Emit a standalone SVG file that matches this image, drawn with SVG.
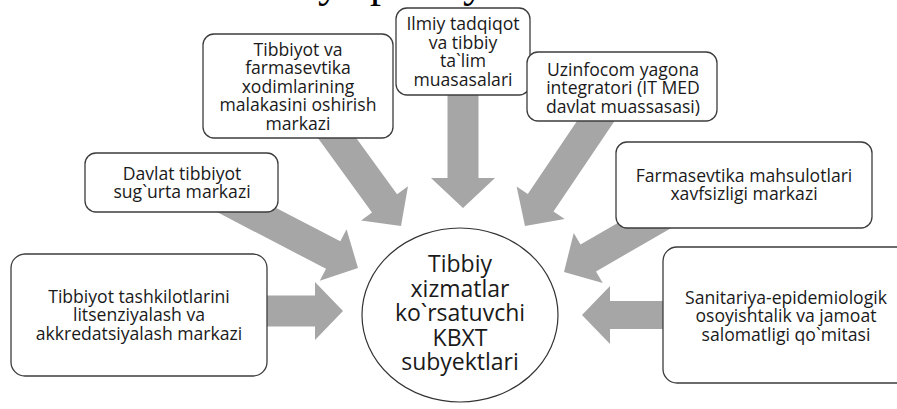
<svg xmlns="http://www.w3.org/2000/svg" width="897" height="409" viewBox="0 0 897 409">
<style>
.box{fill:#fff;stroke:#3c3c3c;stroke-width:1.3}
.arr{fill:#a6a6a6;stroke:none}
.t{font-family:"Open Sans","Noto Sans","Liberation Sans",sans-serif;font-size:17.6px;fill:#1a1a1a;text-anchor:middle}
.c{font-size:23px}
.top{font-family:"Liberation Serif",serif;font-size:44px;fill:#000}
</style>
<rect width="897" height="409" fill="#fff"/>
<text class="top" y="-3"><tspan x="318">y</tspan><tspan x="370">p</tspan><tspan x="463">y</tspan></text>
<g id="connectors">
<polygon class="arr" transform="translate(343,311) rotate(0)" points="0,0 -28,-29 -28,-15.5 -90,-15.5 -90,15.5 -28,15.5 -28,29"/>
<polygon class="arr" transform="translate(582,315) rotate(180)" points="0,0 -28,-29 -28,-14 -100,-14 -100,14 -28,14 -28,29"/>
<polygon class="arr" transform="translate(463,208) rotate(90)" points="0,0 -30,-32 -30,-15.5 -125,-15.5 -125,15.5 -30,15.5 -30,32"/>
<polygon class="arr" transform="translate(401,226) rotate(54)" points="0,0 -28,-29 -28,-15.5 -125,-15.5 -125,15.5 -28,15.5 -28,29"/>
<polygon class="arr" transform="translate(358,268) rotate(27.5)" points="0,0 -28,-29 -28,-15.5 -160,-15.5 -160,15.5 -28,15.5 -28,29"/>
<polygon class="arr" transform="translate(525,226) rotate(124)" points="0,0 -28,-29 -28,-15.5 -145,-15.5 -145,15.5 -28,15.5 -28,29"/>
<polygon class="arr" transform="translate(564,272) rotate(150)" points="0,0 -28,-29 -28,-15.5 -120,-15.5 -120,15.5 -28,15.5 -28,29"/>
</g>
<g id="n-malaka">
<rect class="box" x="203" y="34" width="190" height="104" rx="11"/>
<text class="t"><tspan x="298" y="56">Tibbiyot va</tspan><tspan x="298" y="74.4">farmasevtika</tspan><tspan x="298" y="92.8">xodimlarining</tspan><tspan x="298" y="111.2">malakasini oshirish</tspan><tspan x="298" y="129.6">markazi</tspan></text>
</g>
<g id="n-ilmiy">
<rect class="box" x="396" y="8" width="134" height="87" rx="11"/>
<text class="t"><tspan x="463" y="30">Ilmiy tadqiqot</tspan><tspan x="463" y="48.5">va tibbiy</tspan><tspan x="463" y="67">ta`lim</tspan><tspan x="463" y="85.5">muasasalari</tspan></text>
</g>
<g id="n-uzinfocom">
<rect class="box" x="527" y="52" width="190" height="69" rx="11"/>
<text class="t"><tspan x="623" y="75.5">Uzinfocom yagona</tspan><tspan x="623" y="94">integratori (IT MED</tspan><tspan x="623" y="112.5">davlat muassasasi)</tspan></text>
</g>
<g id="n-sugurta">
<rect class="box" x="85" y="153" width="193" height="59" rx="11"/>
<text class="t"><tspan x="182" y="180">Davlat tibbiyot</tspan><tspan x="182" y="198">sug`urta markazi</tspan></text>
</g>
<g id="n-farma">
<rect class="box" x="616" y="142" width="256" height="86" rx="11"/>
<text class="t"><tspan x="744" y="181.5">Farmasevtika mahsulotlari</tspan><tspan x="744" y="200">xavfsizligi markazi</tspan></text>
</g>
<g id="n-litsenz">
<rect class="box" x="11" y="254" width="256" height="122" rx="14"/>
<text class="t"><tspan x="139" y="303">Tibbiyot tashkilotlarini</tspan><tspan x="139" y="321.3">litsenziyalash va</tspan><tspan x="139" y="339.6">akkredatsiyalash markazi</tspan></text>
</g>
<g id="n-sanitar">
<rect class="box" x="663" y="247" width="250" height="136" rx="14"/>
<text class="t"><tspan x="786" y="304">Sanitariya-epidemiologik</tspan><tspan x="786" y="322.3">osoyishtalik va jamoat</tspan><tspan x="786" y="340.6">salomatligi qo`mitasi</tspan></text>
</g>
<g id="n-center">
<ellipse cx="460" cy="315" rx="98" ry="87" fill="#fff" stroke="#333" stroke-width="1.2"/>
<text class="t c"><tspan x="460" y="272">Tibbiy</tspan><tspan x="460" y="296.5">xizmatlar</tspan><tspan x="460" y="321">ko`rsatuvchi</tspan><tspan x="460" y="345.5">KBXT</tspan><tspan x="460" y="370">subyektlari</tspan></text>
</g>
</svg>
